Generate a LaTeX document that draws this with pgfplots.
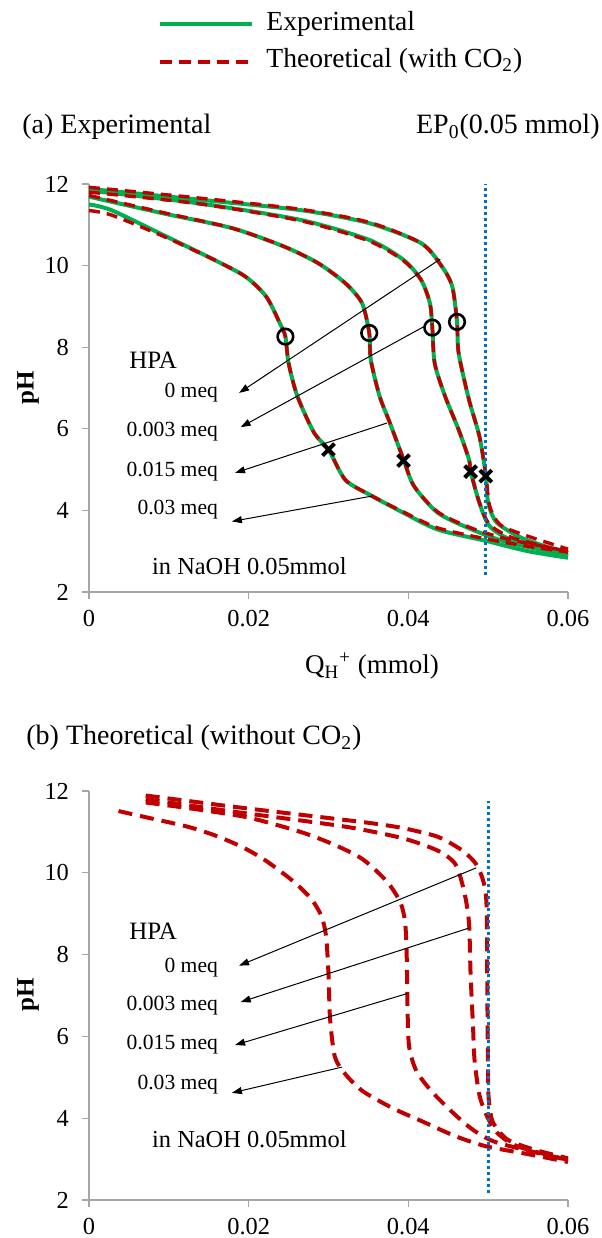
\documentclass[border=0pt]{standalone}
\usepackage{fontspec}
\setmainfont{Liberation Serif}
\usepackage{pgfplots}
\pgfplotsset{compat=1.18}
\usetikzlibrary{arrows.meta}
\definecolor{xgreen}{RGB}{0,176,80}
\definecolor{xred}{RGB}{192,0,0}
\definecolor{xblue}{RGB}{0,112,192}
\pgfplotsset{
 base/.style={scale only axis, width=239.5pt, xmin=0, xmax=0.06, ymin=2, ymax=12,
  axis x line*=bottom, axis y line*=left,
  axis line style={draw=gray!70, line width=0.6pt},
  tick style={draw=gray!70, line width=0.6pt},
  tick align=outside, major tick length=3.5pt,
  xtick={0,0.02,0.04,0.06}, xticklabels={0,0.02,0.04,0.06},
  ytick={2,4,...,12}, scaled x ticks=false,
  tick label style={font=\fontsize{12.2}{14}\selectfont},
  yticklabel style={xshift=-3pt}, xticklabel style={yshift=-2pt},
  /pgf/number format/assume math mode=true, clip=false},
 gline/.style={xgreen, line width=2pt, smooth, tension=0.45},
 rline/.style={xred, line width=1.7pt, dash pattern=on 5.5pt off 3.5pt, smooth, tension=0.45},
 rbline/.style={xred, line width=2pt, dash pattern=on 7pt off 4pt, smooth, tension=0.45},
}
\tikzset{
 arr/.style={black, line width=0.5pt, -{Triangle[length=5pt,width=3.5pt]}},
 meq/.style={anchor=east, inner sep=0pt, font=\fontsize{10.8}{12}\selectfont},
}
\begin{document}
\begin{tikzpicture}
\path[use as bounding box] (0,0) rectangle (300.5pt,-619pt);
% legend
\draw[xgreen, line width=2pt] (80pt,-12pt) -- (126pt,-12pt);
\draw[xred, line width=1.7pt, dash pattern=on 6pt off 3.5pt] (80pt,-31pt) -- (126pt,-31pt);
\node[anchor=west, inner sep=0pt, font=\fontsize{13.8}{15}\selectfont] at (133pt,-12pt) {Experimental};
\node[anchor=west, inner sep=0pt, font=\fontsize{13.8}{15}\selectfont] at (133pt,-30.5pt) {Theoretical (with CO\textsubscript{2})};
% titles
\node[anchor=west, inner sep=0pt, font=\fontsize{14}{16}\selectfont] at (11pt,-63.5pt) {(a) Experimental};
\node[anchor=east, inner sep=0pt, font=\fontsize{14}{16}\selectfont] at (300pt,-63.5pt) {EP\textsubscript{0}(0.05 mmol)};
\node[anchor=west, inner sep=0pt, font=\fontsize{14}{16}\selectfont] at (13pt,-369pt) {(b) Theoretical (without CO\textsubscript{2})};
% axis labels
\node[rotate=90, font=\bfseries\fontsize{12.5}{14}\selectfont] at (14pt,-194pt) {pH};
\node[rotate=90, font=\bfseries\fontsize{12.5}{14}\selectfont] at (14pt,-497.5pt) {pH};
\node[font=\fontsize{13.5}{15}\selectfont] at (186pt,-333pt) {Q\textsubscript{H}\textsuperscript{+} (mmol)};

% ---------------- (a)
\begin{axis}[base, height=204pt, at={(44.5pt,-296pt)}, anchor=south west]
\addplot[gline] coordinates {(0,11.50)(0.0028,11.36)(0.0093,10.75)(0.0157,10.14)(0.0196,9.73)(0.0222,9.24)(0.0239,8.59)(0.0246,8.26)(0.0250,7.61)(0.0261,6.80)(0.0282,5.90)(0.0300,5.49)(0.0321,4.75)(0.0351,4.39)(0.0394,3.94)(0.0437,3.53)(0.0498,3.25)(0.0550,3.00)(0.0600,2.84)};
\addplot[gline] coordinates {(0,11.69)(0.0093,11.28)(0.0179,10.92)(0.0244,10.47)(0.0287,10.06)(0.0321,9.57)(0.0342,9.08)(0.0351,8.35)(0.0353,7.69)(0.0364,6.80)(0.0377,6.14)(0.0394,5.25)(0.0407,4.60)(0.0437,3.94)(0.0480,3.53)(0.0524,3.22)(0.0600,2.90)};
\addplot[gline] coordinates {(0,11.84)(0.0136,11.53)(0.0265,11.12)(0.0351,10.63)(0.0394,10.14)(0.0416,9.65)(0.0427,9.08)(0.0430,8.51)(0.0433,7.61)(0.0446,6.80)(0.0463,5.98)(0.0476,5.25)(0.0478,4.96)(0.0489,4.19)(0.0502,3.61)(0.0532,3.25)(0.0600,2.88)};
\addplot[gline] coordinates {(0,11.88)(0.0136,11.62)(0.0265,11.36)(0.0351,11.04)(0.0416,10.55)(0.0442,9.98)(0.0455,9.49)(0.0461,8.63)(0.0463,7.86)(0.0476,6.71)(0.0489,5.82)(0.0497,4.88)(0.0500,4.19)(0.0511,3.70)(0.0545,3.30)(0.0600,2.95)};
% theoretical with CO2
\addplot[rline] coordinates {(0,11.35)(0.0028,11.24)(0.0093,10.72)(0.0157,10.14)(0.0196,9.73)(0.0222,9.24)(0.0239,8.59)(0.0246,8.26)(0.0250,7.61)(0.0261,6.80)(0.0282,5.90)(0.0300,5.49)(0.0321,4.75)(0.0351,4.39)(0.0394,3.96)(0.0437,3.57)(0.0498,3.30)(0.0550,3.12)(0.0600,2.98)};
\addplot[rline] coordinates {(0,11.72)(0.0093,11.30)(0.0179,10.92)(0.0244,10.47)(0.0287,10.06)(0.0321,9.57)(0.0342,9.08)(0.0351,8.35)(0.0353,7.69)(0.0364,6.80)(0.0377,6.14)(0.0394,5.25)(0.0407,4.60)(0.0437,3.96)(0.0480,3.56)(0.0524,3.30)(0.0600,3.00)};
\addplot[rline] coordinates {(0,11.80)(0.0136,11.52)(0.0265,11.10)(0.0351,10.60)(0.0394,10.12)(0.0416,9.65)(0.0427,9.08)(0.0430,8.51)(0.0433,7.61)(0.0446,6.80)(0.0463,5.98)(0.0476,5.25)(0.0478,4.96)(0.0489,4.19)(0.0502,3.65)(0.0532,3.32)(0.0600,2.98)};
\addplot[rline] coordinates {(0,11.92)(0.0136,11.66)(0.0265,11.38)(0.0351,11.06)(0.0416,10.55)(0.0442,9.98)(0.0455,9.49)(0.0461,8.63)(0.0463,7.86)(0.0476,6.71)(0.0489,5.82)(0.0497,4.88)(0.0502,4.10)(0.0515,3.65)(0.0545,3.40)(0.0600,3.05)};
% EP0 line
\addplot[xblue, line width=1.5pt, dash pattern=on 1.5pt off 1.5pt] coordinates {(0.0497,2.42)(0.0497,12)};
% markers
\addplot[only marks, mark=o, mark size=3.9pt, mark options={line width=1.3pt, draw=black}] coordinates {(0.0246,8.26)(0.0351,8.35)(0.0430,8.48)(0.0461,8.62)};
\addplot[only marks, mark=x, mark size=4.2pt, black, mark options={line width=2pt}] coordinates {(0.0300,5.49)(0.0394,5.22)(0.0478,4.95)(0.0497,4.84)};
% annotations
\node[anchor=west, inner sep=0pt, font=\fontsize{12.5}{14}\selectfont] at (axis cs:0.005,7.69) {HPA};
\node[meq] at (axis cs:0.0162,6.88) {0 meq};
\node[meq] at (axis cs:0.0162,5.94) {0.003 meq};
\node[meq] at (axis cs:0.0162,4.96) {0.015 meq};
\node[meq] at (axis cs:0.0162,4.02) {0.03 meq};
\draw[arr] (axis cs:0.0440,10.16) -- (axis cs:0.0188,6.88);
\draw[arr] (axis cs:0.0420,8.51) -- (axis cs:0.0190,6.04);
\draw[arr] (axis cs:0.0373,6.14) -- (axis cs:0.0183,4.92);
\draw[arr] (axis cs:0.0354,4.35) -- (axis cs:0.0179,3.73);
\node[font=\fontsize{12.2}{14}\selectfont] at (axis cs:0.0201,2.64) {in NaOH 0.05mmol};
\end{axis}

% ---------------- (b)
\begin{axis}[base, height=204.5pt, at={(44.5pt,-600pt)}, anchor=south west]
\addplot[rbline] coordinates {(0.0037,11.51)(0.0071,11.36)(0.0123,11.13)(0.0157,10.92)(0.0192,10.63)(0.0222,10.29)(0.0256,9.79)(0.0278,9.37)(0.0291,8.95)(0.0297,8.44)(0.0300,7.52)(0.0302,6.42)(0.0308,5.50)(0.0321,5.08)(0.0343,4.66)(0.0381,4.24)(0.0420,3.90)(0.0459,3.56)(0.0498,3.31)(0.0545,3.14)(0.0600,2.93)};
\addplot[rbline] coordinates {(0.0071,11.72)(0.0136,11.55)(0.0200,11.35)(0.0265,11.00)(0.0308,10.68)(0.0343,10.33)(0.0373,9.79)(0.0390,9.28)(0.0396,8.78)(0.0398,7.94)(0.0399,6.68)(0.0401,5.75)(0.0410,5.16)(0.0429,4.66)(0.0455,4.15)(0.0480,3.73)(0.0506,3.44)(0.0545,3.23)(0.0600,2.98)};
\addplot[rbline] coordinates {(0.0071,11.80)(0.0179,11.50)(0.0265,11.28)(0.0330,11.10)(0.0394,10.84)(0.0437,10.54)(0.0459,10.21)(0.0470,9.54)(0.0476,8.78)(0.0478,7.52)(0.0481,6.26)(0.0483,5.41)(0.0489,4.57)(0.0498,4.07)(0.0511,3.65)(0.0537,3.31)(0.0600,2.98)};
\addplot[rbline] coordinates {(0.0071,11.89)(0.0179,11.62)(0.0265,11.42)(0.0351,11.22)(0.0394,11.09)(0.0437,10.88)(0.0468,10.54)(0.0485,10.21)(0.0494,9.79)(0.0498,9.20)(0.0499,7.00)(0.0500,5.00)(0.0501,4.40)(0.0506,3.90)(0.0524,3.48)(0.0558,3.23)(0.0600,3.02)};
\addplot[xblue, line width=1.5pt, dash pattern=on 1.5pt off 1.5pt] coordinates {(0.0500,2.16)(0.0500,11.75)};
\node[anchor=west, inner sep=0pt, font=\fontsize{12.5}{14}\selectfont] at (axis cs:0.005,8.57) {HPA};
\node[meq] at (axis cs:0.0162,7.69) {0 meq};
\node[meq] at (axis cs:0.0162,6.76) {0.003 meq};
\node[meq] at (axis cs:0.0162,5.79) {0.015 meq};
\node[meq] at (axis cs:0.0162,4.83) {0.03 meq};
\draw[arr] (axis cs:0.0485,10.12) -- (axis cs:0.0188,7.73);
\draw[arr] (axis cs:0.0476,8.65) -- (axis cs:0.0190,6.84);
\draw[arr] (axis cs:0.0399,7.05) -- (axis cs:0.0183,5.79);
\draw[arr] (axis cs:0.0317,5.25) -- (axis cs:0.0179,4.62);
\node[font=\fontsize{12.2}{14}\selectfont] at (axis cs:0.0201,3.48) {in NaOH 0.05mmol};
\end{axis}
\end{tikzpicture}
\end{document}
